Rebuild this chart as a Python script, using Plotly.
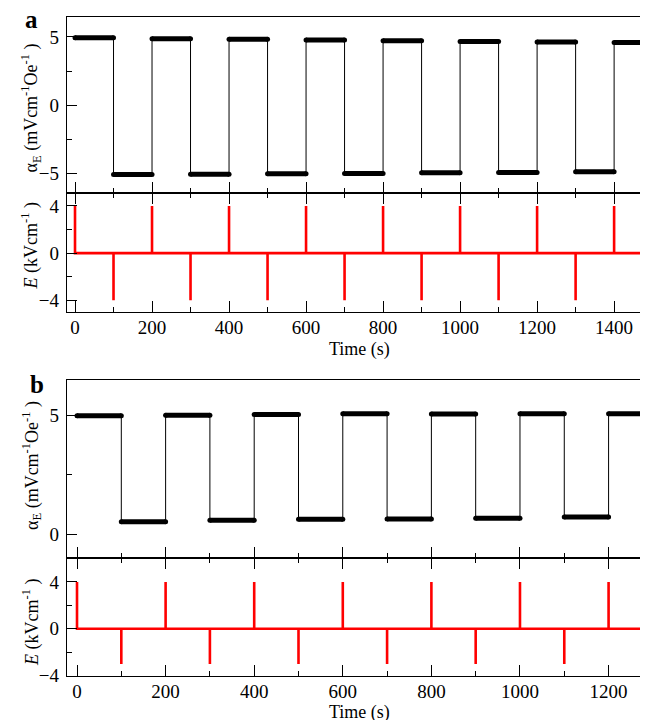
import plotly.graph_objects as go

# ---------------- data ----------------
# Panel a: alpha_E plateau levels, each lasting 100 s starting at t = 0
a_seg_start = [0, 100, 200, 300, 400, 500, 600, 700, 800, 900, 1000, 1100, 1200, 1300, 1400]
a_seg_end = [100, 200, 300, 400, 500, 600, 700, 800, 900, 1000, 1100, 1200, 1300, 1400, 1500]
a_levels = [4.94, -5.05, 4.87, -5.03, 4.82, -5.00, 4.77, -4.97, 4.72, -4.93, 4.67, -4.90, 4.62, -4.85, 4.58]

# Panel a: electric field pulses
a_pulse_t = [0, 100, 200, 300, 400, 500, 600, 700, 800, 900, 1000, 1100, 1200, 1300, 1400]
a_pulse_E = [4, -4, 4, -4, 4, -4, 4, -4, 4, -4, 4, -4, 4, -4, 4]
a_t_end = 1500

# Panel b
b_seg_start = [0, 100, 200, 300, 400, 500, 600, 700, 800, 900, 1000, 1100, 1200]
b_seg_end = [100, 200, 300, 400, 500, 600, 700, 800, 900, 1000, 1100, 1200, 1300]
b_levels = [4.97, 0.52, 4.99, 0.58, 5.02, 0.63, 5.05, 0.64, 5.04, 0.67, 5.05, 0.72, 5.05]

b_pulse_t = [0, 100, 200, 300, 400, 500, 600, 700, 800, 900, 1000, 1100, 1200]
b_pulse_E = [4, -3, 4, -3, 4, -3, 4, -3, 4, -3, 4, -3, 4]
b_t_end = 1300

a_xticks = [0, 200, 400, 600, 800, 1000, 1200, 1400]
b_xticks = [0, 200, 400, 600, 800, 1000, 1200]

FONT = "Liberation Serif"
OFF = 8  # page body margin offset
W, H = 648 - OFF, 720 - OFF
ML, MR, MT, MB = 67 - OFF, 0, 17 - OFF, 720 - 676
PH = H - MT - MB
PW = W - ML - MR


def py(Y):  # page pixel Y -> paper
    return (H - MB - (Y - OFF)) / PH


def px(X):  # page pixel X -> paper
    return (X - OFF - ML) / PW


def step_xy(starts, ends, levels):
    xs, ys = [], []
    for s, e, l in zip(starts, ends, levels):
        xs += [s, e]
        ys += [l, l]
    return xs, ys


def plateau_xy(starts, ends, levels):
    xs, ys = [], []
    for s, e, l in zip(starts, ends, levels):
        xs += [s, e, None]
        ys += [l, l, None]
    return xs, ys


def pulse_xy(times, amps, t_end):
    xs, ys = [], []
    for t, a in zip(times, amps):
        xs += [t, t, t]
        ys += [0, a, 0]
    xs.append(t_end)
    ys.append(0)
    return xs, ys


fig = go.Figure()

for (starts, ends, levels, times, amps, t_end, xa, ya, xb, yb) in [
    (a_seg_start, a_seg_end, a_levels, a_pulse_t, a_pulse_E, a_t_end, "x", "y", "x2", "y2"),
    (b_seg_start, b_seg_end, b_levels, b_pulse_t, b_pulse_E, b_t_end, "x3", "y3", "x4", "y4"),
]:
    sx, sy = step_xy(starts, ends, levels)
    fig.add_trace(go.Scatter(x=sx, y=sy, mode="lines", line=dict(color="black", width=1),
                             xaxis=xa, yaxis=ya, showlegend=False, hoverinfo="skip"))
    qx, qy = plateau_xy(starts, ends, levels)
    fig.add_trace(go.Scatter(x=qx, y=qy, mode="lines+markers", line=dict(color="black", width=5),
                             marker=dict(color="black", size=5), xaxis=xa, yaxis=ya,
                             showlegend=False, hoverinfo="skip"))
    ex, ey = pulse_xy(times, amps, t_end)
    fig.add_trace(go.Scatter(x=ex, y=ey, mode="lines", line=dict(color="#ff0000", width=2.6),
                             xaxis=xb, yaxis=yb, showlegend=False, hoverinfo="skip"))

tickfont = dict(family=FONT, size=19, color="black")
common_x = dict(showline=True, linecolor="black", linewidth=1.3, ticks="inside", ticklen=11,
                tickwidth=1.3, tickcolor="black", showgrid=False, zeroline=False,
                minor=dict(ticks="inside", ticklen=5, tickwidth=1.3, tickcolor="black", dtick=100, tick0=0),
                tickfont=tickfont, ticklabelstandoff=-2)
common_y = dict(showline=True, linecolor="black", linewidth=1.3, ticks="inside", ticklen=10,
                tickwidth=1.3, tickcolor="black", showgrid=False, zeroline=False,
                tickfont=tickfont, ticklabelstandoff=3)

ra = [-20.8, 1488]
rb = [-22.6, 1289]

fig.update_layout(
    width=W, height=H,
    margin=dict(l=ML, r=MR, t=MT, b=MB),
    paper_bgcolor="white", plot_bgcolor="white",
    font=dict(family=FONT, size=18, color="black"),
    xaxis=dict(common_x, domain=[0, 1], anchor="y", range=ra, tickvals=a_xticks,
               showticklabels=False, mirror=True),
    xaxis2=dict(common_x, domain=[0, 1], anchor="y2", range=ra, tickvals=a_xticks,
                mirror="ticks"),
    yaxis=dict(common_y, domain=[py(193), 1], anchor="x", range=[-6.4, 6.45],
               tickvals=[-5, 0, 5],
               minor=dict(ticks="inside", ticklen=5, tickwidth=1.3, tickcolor="black", dtick=2.5, tick0=0)),
    yaxis2=dict(common_y, domain=[py(312), py(193)], anchor="x2", range=[-5.0, 5.1],
                tickvals=[-4, 0, 4],
                minor=dict(ticks="inside", ticklen=5, tickwidth=1.3, tickcolor="black", dtick=2, tick0=0)),
    xaxis3=dict(common_x, domain=[0, 1], anchor="y3", range=rb, tickvals=b_xticks,
                showticklabels=False, mirror=True),
    xaxis4=dict(common_x, domain=[0, 1], anchor="y4", range=rb, tickvals=b_xticks,
                mirror="ticks"),
    yaxis3=dict(common_y, domain=[py(558), py(380)], anchor="x3", range=[-1.0, 6.47],
                tickvals=[0, 5],
                minor=dict(ticks="inside", ticklen=5, tickwidth=1.3, tickcolor="black", dtick=2.5, tick0=0)),
    yaxis4=dict(common_y, domain=[0, py(558)], anchor="x4", range=[-4.03, 6.04],
                tickvals=[-4, 0, 4],
                minor=dict(ticks="inside", ticklen=5, tickwidth=1.3, tickcolor="black", dtick=2, tick0=0)),
)

alpha_title = "α<sub>E</sub> (mVcm<sup>-1</sup>Oe<sup>-1</sup> )"
e_title = "<i>E</i> (kVcm<sup>-1</sup> )"

anns = [
    dict(text="<b>a</b>", x=px(31), y=py(19.5), font=dict(family=FONT, size=25)),
    dict(text="<b>b</b>", x=px(36.5), y=py(384), font=dict(family=FONT, size=25)),
    dict(text=alpha_title, x=px(31), y=py(108.5), textangle=-90),
    dict(text=e_title, x=px(31), y=py(246.5), textangle=-90),
    dict(text=alpha_title, x=px(31), y=py(466), textangle=-90),
    dict(text=e_title, x=px(31), y=py(623), textangle=-90),
    dict(text="Time (s)", x=px(359.5), y=py(349)),
    dict(text="Time (s)", x=px(359.5), y=py(712)),
]
for a in anns:
    a.update(xref="paper", yref="paper", showarrow=False, xanchor="center", yanchor="middle")
    if "font" not in a:
        a["font"] = dict(family=FONT, size=18, color="black")
    else:
        a["font"]["color"] = "black"
fig.update_layout(annotations=anns)

fig.write_html("out.html")
